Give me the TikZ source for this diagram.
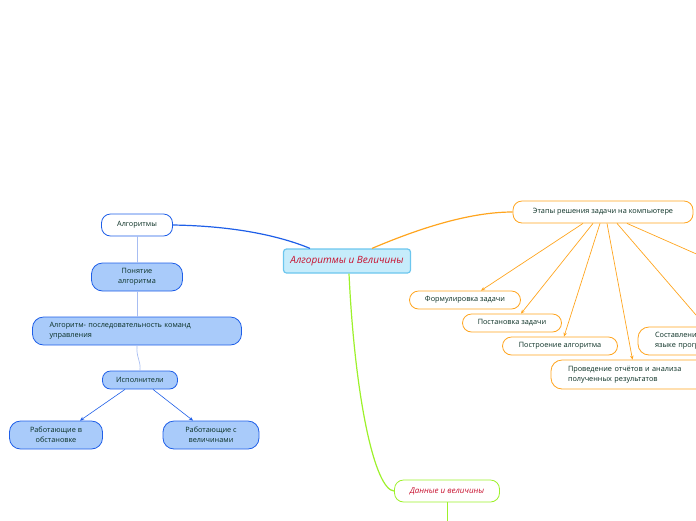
\documentclass[tikz,border=0pt]{standalone}
\usepackage{fontspec}
\setmainfont{Open Sans}
\usetikzlibrary{arrows.meta}
\definecolor{maintxt}{HTML}{082E22}
\definecolor{redtxt}{HTML}{C8102E}
\definecolor{rootfill}{HTML}{C6ECFB}
\definecolor{rootline}{HTML}{6CC6EE}
\definecolor{blueline}{HTML}{1F5FE8}
\definecolor{bluefill}{HTML}{A9CBFA}
\definecolor{bluethin}{HTML}{A7BDF2}
\definecolor{orangeline}{HTML}{FFA51F}
\definecolor{greenline}{HTML}{9DF12B}
\tikzset{
  box/.style={draw, rounded corners=9pt, font=\fontsize{7.3}{10}\selectfont,
    text=maintxt, inner sep=2pt, line width=0.8pt, align=center},
  rootbox/.style={draw=rootline, fill=rootfill, rounded corners=3pt, line width=1.2pt,
    font=\fontsize{10}{12}\selectfont\itshape, text=redtxt,
    minimum width=127, minimum height=24},
  bluetopic/.style={box, draw=blueline, fill=white, minimum width=71, minimum height=22},
  bluebox/.style={box, draw=blueline, fill=bluefill, rounded corners=11pt, minimum height=28},
  orangetopic/.style={box, draw=orangeline, fill=white, minimum width=180, minimum height=22},
  orangebox/.style={box, draw=orangeline, fill=white, minimum height=18},
  greentopic/.style={box, draw=greenline, fill=white, minimum width=105, minimum height=22,
    font=\fontsize{8}{10}\selectfont\itshape, text=redtxt},
  thinlink/.style={draw=bluethin, line width=0.7pt},
  bluearrow/.style={draw=blueline, line width=0.6pt, -{Stealth[length=4pt,width=3.5pt]}},
  orangearrow/.style={draw=orangeline, line width=0.7pt, -{Stealth[length=4pt,width=3.5pt]}}
}
\begin{document}
\begin{tikzpicture}[x=1pt,y=-1pt]
  \useasboundingbox (0,0) rectangle (696,520);
  \clip (0,0) rectangle (696,520);

  % central topic
  \node[rootbox] (root) at (347,261) {Алгоритмы и Величины};

  % left branch
  \node[bluetopic] (alg) at (137,225) {Алгоритмы};
  \node[bluebox, minimum width=91] (idea) at (137,277) {Понятие\\алгоритма};
  \node[bluebox, minimum width=209, text width=175, inner xsep=17pt, align=left] (def) at (137,331)
    {Алгоритм- последовательность команд управления};
  \node[bluebox, minimum width=75, minimum height=18, rounded corners=8pt] (exe) at (140,380) {Исполнители};
  \node[bluebox, minimum width=93] (work1) at (56,435) {Работающие в\\обстановке};
  \node[bluebox, minimum width=96] (work2) at (211,435) {Работающие с\\величинами};

  % right branch
  \node[orangetopic] (steps) at (603,212) {Этапы решения задачи на компьютере};
  \node[orangebox, minimum width=111] (form) at (465,300) {Формулировка задачи};
  \node[orangebox, minimum width=99] (post) at (512,323) {Постановка задачи};
  \node[orangebox, minimum width=115] (build) at (560,346) {Построение алгоритма};
  \node[orangebox, minimum height=29, rounded corners=11pt, text width=125, inner xsep=17pt, align=left] (prov) at (630.5,374.5)
    {Проведение отчётов и анализа\\полученных результатов};
  \node[orangebox, minimum height=28, rounded corners=11pt, text width=126, inner xsep=17pt, align=left] (comp) at (718,341)
    {Составление программы на\\языке программирования};
  \coordinate (other) at (760,282);

  % bottom branch
  \node[greentopic] (data) at (447,491) {Данные и величины};
  \coordinate (datanext) at (447,530);

  % connectors
  \draw[blueline, line width=1.2pt] (alg.east) .. controls (235,226) and (280,236) .. ([xshift=-37pt]root.north);
  \draw[thinlink] (alg) -- (idea);
  \draw[thinlink] (idea) -- (def);
  \draw[thinlink] (def.south) .. controls (136,358) and (141,360) .. (exe.north);
  \draw[bluearrow] ([xshift=-15pt]exe.south) -- ([xshift=24pt]work1.north);
  \draw[bluearrow] ([xshift=13pt]exe.south) -- ([xshift=-18pt]work2.north);

  \draw[orangeline, line width=1.2pt] ([xshift=25pt]root.north) .. controls (420,228) and (470,212) .. (steps.west);
  \draw[orangearrow] ([xshift=-20pt]steps.south) -- ([xshift=16pt]form.north);
  \draw[orangearrow] ([xshift=-10pt]steps.south) -- ([xshift=9pt]post.north);
  \draw[orangearrow] ([xshift=-3pt]steps.south) -- ([xshift=4pt]build.north);
  \draw[orangearrow] ([xshift=4pt]steps.south) -- ([xshift=2pt]prov.north);
  \draw[orangearrow] ([xshift=14pt]steps.south) -- ([xshift=-12pt]comp.north);
  \draw[orangearrow] ([xshift=24pt]steps.south) -- (other);

  \draw[greenline, line width=1.2pt] ([xshift=2pt]root.south) .. controls (355,400) and (375,490) .. (data.west);
  \draw[greenline, line width=1pt] (data.south) -- (datanext);
\end{tikzpicture}
\end{document}
